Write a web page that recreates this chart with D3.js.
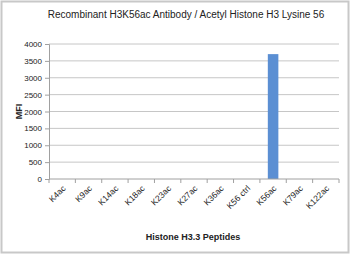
<!DOCTYPE html>
<html>
<head>
<meta charset="utf-8">
<script src="https://cdn.jsdelivr.net/npm/d3@7"></script>
<style>
  body { margin: 0; background: #fff; }
  svg { display: block; }
</style>
</head>
<body>
<div id="app"></div>
<script>
const peptides = ["K4ac", "K9ac", "K14ac", "K18ac", "K23ac", "K27ac", "K36ac", "K56 ctrl", "K56ac", "K79ac", "K122ac"];
const mfi = [0, 0, 0, 0, 0, 0, 0, 0, 3700, 0, 0];
const yTicks = [0, 500, 1000, 1500, 2000, 2500, 3000, 3500, 4000];

const w = 350, h = 254;
const m = { top: 44, right: 11, bottom: 75, left: 49 };
const font = "Liberation Sans, Arial, sans-serif";

const svg = d3.select("#app").append("svg").attr("width", w).attr("height", h);

// outer frame
svg.append("rect")
  .attr("x", 1.5).attr("y", 1.5)
  .attr("width", w - 3).attr("height", h - 3)
  .attr("fill", "#fff").attr("stroke", "#c8c8c8").attr("stroke-width", 2);

const x = d3.scaleBand().domain(peptides).range([m.left, w - m.right]);
const y = d3.scaleLinear().domain([0, 4000]).range([h - m.bottom, m.top]);

// gridlines
svg.append("g")
  .selectAll("line")
  .data(yTicks.slice(1))
  .join("line")
  .attr("x1", m.left).attr("x2", w - m.right)
  .attr("y1", d => y(d)).attr("y2", d => y(d))
  .attr("stroke", "#c6c6c6").attr("stroke-width", 1);

// y axis
const yAxis = svg.append("g")
  .attr("transform", `translate(${m.left},0)`)
  .call(d3.axisLeft(y).tickValues(yTicks).tickFormat(d3.format("d")).tickSize(4).tickPadding(3));
yAxis.select(".domain").attr("stroke", "#a0a0a0");
yAxis.selectAll(".tick line").attr("stroke", "#a0a0a0");
yAxis.selectAll("text").attr("font-family", font).attr("font-size", 8).attr("fill", "#222");

// bars
svg.append("g")
  .selectAll("rect")
  .data(peptides.map((p, i) => ({ p, v: mfi[i] })))
  .join("rect")
  .attr("x", d => x(d.p) + x.bandwidth() * 0.3)
  .attr("width", x.bandwidth() * 0.4)
  .attr("y", d => y(d.v))
  .attr("height", d => y(0) - y(d.v))
  .attr("fill", "#5b8fd3");

// x axis with ticks at category boundaries
const xg = svg.append("g").attr("transform", `translate(0,${y(0)})`);
xg.append("line")
  .attr("x1", m.left).attr("x2", w - m.right)
  .attr("stroke", "#a0a0a0");
xg.selectAll(".bt")
  .data(d3.range(peptides.length + 1))
  .join("line")
  .attr("x1", i => m.left + i * x.step()).attr("x2", i => m.left + i * x.step())
  .attr("y1", 0).attr("y2", 4)
  .attr("stroke", "#a0a0a0");
xg.selectAll("text")
  .data(peptides)
  .join("text")
  .attr("transform", d => `translate(${x(d) + x.bandwidth() / 2 + 4},${10}) rotate(-45)`)
  .attr("text-anchor", "end")
  .attr("font-family", font)
  .attr("font-size", 8.5)
  .attr("fill", "#222")
  .text(d => d);

// title
svg.append("text")
  .attr("x", 186).attr("y", 18)
  .attr("text-anchor", "middle")
  .attr("font-family", font)
  .attr("font-size", 10)
  .attr("fill", "#222")
  .text("Recombinant H3K56ac Antibody / Acetyl Histone H3 Lysine 56");

// axis titles
svg.append("text")
  .attr("transform", `translate(22,${(m.top + h - m.bottom) / 2}) rotate(-90)`)
  .attr("text-anchor", "middle")
  .attr("font-family", font)
  .attr("font-size", 9)
  .attr("font-weight", "bold")
  .attr("fill", "#222")
  .text("MFI");

svg.append("text")
  .attr("x", 193).attr("y", 240)
  .attr("text-anchor", "middle")
  .attr("font-family", font)
  .attr("font-size", 9)
  .attr("font-weight", "bold")
  .attr("fill", "#222")
  .text("Histone H3.3 Peptides");
</script>
</body>
</html>
